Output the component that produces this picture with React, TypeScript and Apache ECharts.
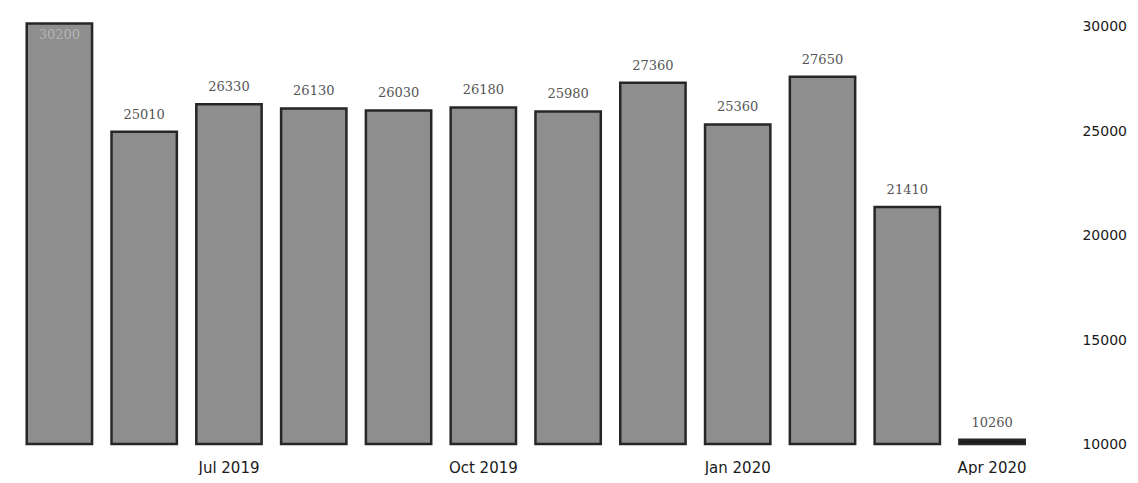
import React, { useEffect, useRef } from "react";
import * as echarts from "echarts";

const months = [
  "May 2019", "Jun 2019", "Jul 2019", "Aug 2019", "Sep 2019", "Oct 2019",
  "Nov 2019", "Dec 2019", "Jan 2020", "Feb 2020", "Mar 2020", "Apr 2020",
];
const values = [30200, 25010, 26330, 26130, 26030, 26180, 25980, 27360, 25360, 27650, 21410, 10260];
const yTicks = [10000, 15000, 20000, 25000, 30000];

export default function App() {
  const ref = useRef<HTMLDivElement>(null);
  useEffect(() => {
    const chart = echarts.init(ref.current!, null, { renderer: "svg" });
    chart.setOption({
      animation: false,
      backgroundColor: "#ffffff",
      grid: { left: 9, right: 95, top: 8, bottom: 31 },
      xAxis: {
        type: "category",
        data: months,
        axisLine: { show: false },
        axisTick: { show: false },
        axisLabel: {
          interval: (idx: number) => idx % 3 === 2,
          color: "#1a1a1a",
          fontFamily: "DejaVu Sans",
          fontSize: 15,
          margin: 16,
        },
      },
      yAxis: {
        type: "value",
        position: "right",
        min: yTicks[0],
        max: 30500,
        interval: 5000,
        splitLine: { show: false },
        axisLine: { show: false },
        axisTick: { show: false },
        axisLabel: {
          showMaxLabel: false,
          formatter: (v: number) => String(v),
          color: "#1a1a1a",
          fontFamily: "DejaVu Sans",
          fontSize: 14,
          margin: 48,
        },
      },
      series: [
        {
          type: "bar",
          barCategoryGap: "20%",
          data: values.map((v, i) =>
            i === 0
              ? { value: v, label: { position: "insideTop", color: "#b5b5b5", distance: 6 } }
              : i === values.length - 1
              ? { value: v, itemStyle: { color: "#1a1a1a" } }
              : v
          ),
          itemStyle: { color: "#8e8e8e", borderColor: "#262626", borderWidth: 2.5 },
          label: {
            show: true,
            position: "top",
            distance: 10,
            color: "#555555",
            fontFamily: "DejaVu Serif",
            fontSize: 13,
          },
        },
      ],
    });
    return () => chart.dispose();
  }, []);
  return <div ref={ref} style={{ width: 1122, height: 467 }} />;
}
